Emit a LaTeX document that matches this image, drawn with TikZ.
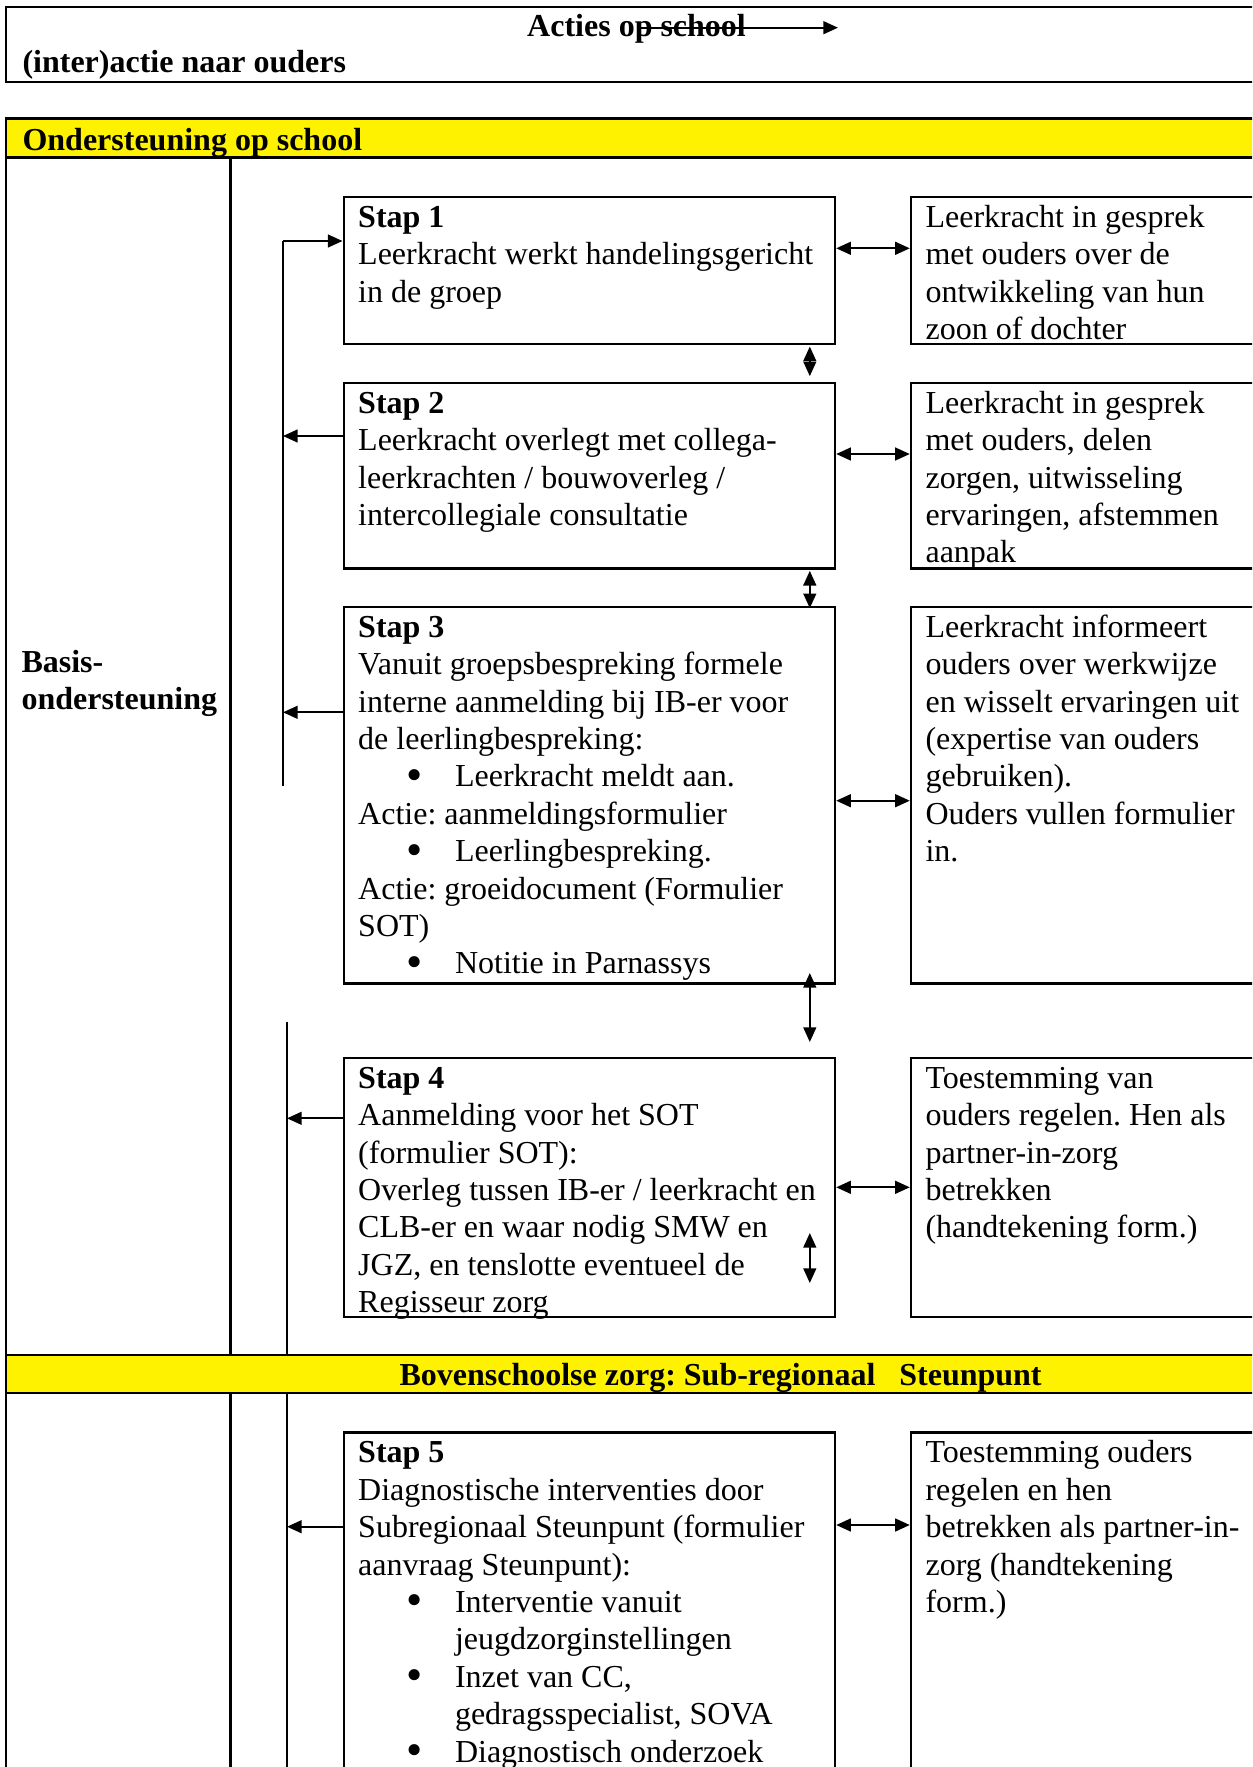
\documentclass[tikz,border=0pt]{standalone}
\usepackage{fontspec}
\setmainfont{Liberation Serif}
\usetikzlibrary{arrows.meta,fit}
\newcommand{\fsz}{\fontsize{12pt}{14.03pt}\selectfont\frenchspacing}
\newcommand{\fst}{\rule{0pt}{10pt}}
\newcommand{\bitem}{\hspace*{18.05pt}\makebox[18.25pt][l]{\raisebox{-1.3pt}{\scalebox{1.45}{\textbullet}}}}
\newcommand{\bcont}{\hspace*{36.3pt}}
\tikzset{
  rule/.style={line width=0.9pt},
  stepbox/.style={draw, line width=0.9pt, inner sep=0pt},
  bar/.style={draw, fill=yellow, line width=0.9pt, inner sep=0pt},
  txt/.style={inner sep=0pt, anchor=north west, align=left, font=\fsz},
  btxt/.style={inner sep=0pt, anchor=north west, align=left, font=\fsz\bfseries},
  hdr/.style={inner sep=0pt, anchor=base west, font=\fsz\bfseries},
  arr/.style={line width=0.75pt, -{Triangle[length=5.5pt,width=4.8pt]}},
  dbl/.style={line width=0.75pt, {Triangle[length=5.5pt,width=4.8pt]}-{Triangle[length=5.5pt,width=4.8pt]}},
}
\begin{document}
\begin{tikzpicture}[x=0.375pt,y=-0.375pt]
\useasboundingbox (0,0) rectangle (1252,1767);
\clip (0,0) rectangle (1252,1767);

% header box
\node[stepbox, fit={(6,6.7) (1275,81.7)}] (head) {};
\node[hdr] (acties) at (526.7,36.7) {Acties op school};
\node[hdr] (inter) at (22,72.5) {(inter)actie naar ouders};
\coordinate (ha) at (640,27.7);
\coordinate (hb) at (838,27.7);
\draw[arr] (ha) -- (hb);

% table lines
\coordinate (tl0) at (6,118.3);
\coordinate (tl1) at (6,1790);
\coordinate (c0) at (230.6,157.3);
\coordinate (c1) at (230.6,1790);
\draw[rule] (tl0) -- (tl1);
\draw[rule] (c0) -- (c1);

% feedback lines
\coordinate (f1a) at (283,241);
\coordinate (f1b) at (283,785.7);
\coordinate (f2a) at (287,1021.7);
\coordinate (f2b) at (287,1790);
\draw[rule] (f1b) -- (f1a);
\draw[rule] (f2a) -- (f2b);

% yellow bars
\node[bar, fit={(6,118.3) (1275,157.3)}] (bar1) {};
\node[hdr] (bar1t) at (22,150) {Ondersteuning op school};
\node[bar, fit={(6,1355) (1275,1393)}] (bar2) {};
\node[hdr] (bar2t) at (399,1385) {Bovenschoolse zorg: Sub-regionaal\ \ \ Steunpunt};

% boxes
\node[stepbox, fit={(343.7,196.7) (835,344)}] (s1) {};
\node[stepbox, fit={(911,196.7) (1275,344)}] (r1) {};
\node[stepbox, fit={(343.7,382.7) (835,568.3)}] (s2) {};
\node[stepbox, fit={(911,382.7) (1275,568.3)}] (r2) {};
\node[stepbox, fit={(343.7,606.7) (835,983.3)}] (s3) {};
\node[stepbox, fit={(911,606.7) (1275,983.3)}] (r3) {};
\node[stepbox, fit={(343.7,1057.7) (835,1316.7)}] (s4) {};
\node[stepbox, fit={(911,1057.7) (1275,1316.7)}] (r4) {};
\node[stepbox, fit={(343.7,1432.3) (835,1800)}] (s5) {};
\node[stepbox, fit={(911,1432.3) (1275,1800)}] (r5) {};

% horizontal double arrows
\coordinate (h1) at (0,248.3);
\coordinate (h2) at (0,454);
\coordinate (h3) at (0,800.7);
\coordinate (h4) at (0,1187.3);
\coordinate (h5) at (0,1525);
\draw[dbl] (s1.east |- h1) -- (r1.west |- h1);
\draw[dbl] (s2.east |- h2) -- (r2.west |- h2);
\draw[dbl] (s3.east |- h3) -- (r3.west |- h3);
\draw[dbl] (s4.east |- h4) -- (r4.west |- h4);
\draw[dbl] (s5.east |- h5) -- (r5.west |- h5);

% vertical double arrows
\coordinate (vx) at (809.8,0);
\draw[dbl, shorten <=0.5pt, shorten >=2pt] (s1.south -| vx) -- (s2.north -| vx);
\draw[dbl, shorten <=0.5pt, shorten >=-1pt] (s2.south -| vx) -- (s3.north -| vx);
\coordinate (v34a) at (809.8,973);
\coordinate (v34b) at (809.8,1042);
\draw[dbl] (v34a) -- (v34b);
\coordinate (v4a) at (809.8,1233);
\coordinate (v4b) at (809.8,1283);
\draw[dbl] (v4a) -- (v4b);

% feedback arrows
\coordinate (l2) at (283,436);
\coordinate (l3) at (283,712.3);
\coordinate (l4) at (287,1118.3);
\coordinate (l5) at (287,1526.7);
\draw[arr] (f1a) -- (s1.west |- f1a);
\draw[arr] (s2.west |- l2) -- (l2);
\draw[arr] (s3.west |- l3) -- (l3);
\draw[arr] (s4.west |- l4) -- (l4);
\draw[arr] (s5.west |- l5) -- (l5);

% texts
\node[btxt] (basis) at (21,645.3) {\fst Basis-\\ondersteuning};

\node[txt] (s1t) at (357.7,200) {\fst\textbf{Stap 1}\\Leerkracht werkt handelingsgericht\\in de groep};
\node[txt] (r1t) at (925,200) {\fst Leerkracht in gesprek\\met ouders over de\\ontwikkeling van hun\\zoon of dochter};

\node[txt] (s2t) at (357.7,386) {\fst\textbf{Stap 2}\\Leerkracht overlegt met collega-\\leerkrachten / bouwoverleg /\\intercollegiale consultatie};
\node[txt] (r2t) at (925,386) {\fst Leerkracht in gesprek\\met ouders, delen\\zorgen, uitwisseling\\ervaringen, afstemmen\\aanpak};

\node[txt] (s3t) at (357.7,610) {\fst\textbf{Stap 3}\\Vanuit groepsbespreking formele\\interne aanmelding bij IB-er voor\\de leerlingbespreking:\\\bitem Leerkracht meldt aan.\\Actie: aanmeldingsformulier\\\bitem Leerlingbespreking.\\Actie: groeidocument (Formulier\\SOT)\\\bitem Notitie in Parnassys};
\node[txt] (r3t) at (925,610) {\fst Leerkracht informeert\\ouders over werkwijze\\en wisselt ervaringen uit\\(expertise van ouders\\gebruiken).\\Ouders vullen formulier\\in.};

\node[txt] (s4t) at (357.7,1061) {\fst\textbf{Stap 4}\\Aanmelding voor het SOT\\(formulier SOT):\\Overleg tussen IB-er / leerkracht en\\CLB-er en waar nodig SMW en\\JGZ, en tenslotte eventueel de\\Regisseur zorg};
\node[txt] (r4t) at (925,1061) {\fst Toestemming van\\ouders regelen. Hen als\\partner-in-zorg\\betrekken\\(handtekening form.)};

\node[txt] (s5t) at (357.7,1435.6) {\fst\textbf{Stap 5}\\Diagnostische interventies door\\Subregionaal Steunpunt (formulier\\aanvraag Steunpunt):\\\bitem Interventie vanuit\\\bcont jeugdzorginstellingen\\\bitem Inzet van CC,\\\bcont gedragsspecialist, SOVA\\\bitem Diagnostisch onderzoek};
\node[txt] (r5t) at (925,1435.6) {\fst Toestemming ouders\\regelen en hen\\betrekken als partner-in-\\zorg (handtekening\\form.)};
\end{tikzpicture}
\end{document}
